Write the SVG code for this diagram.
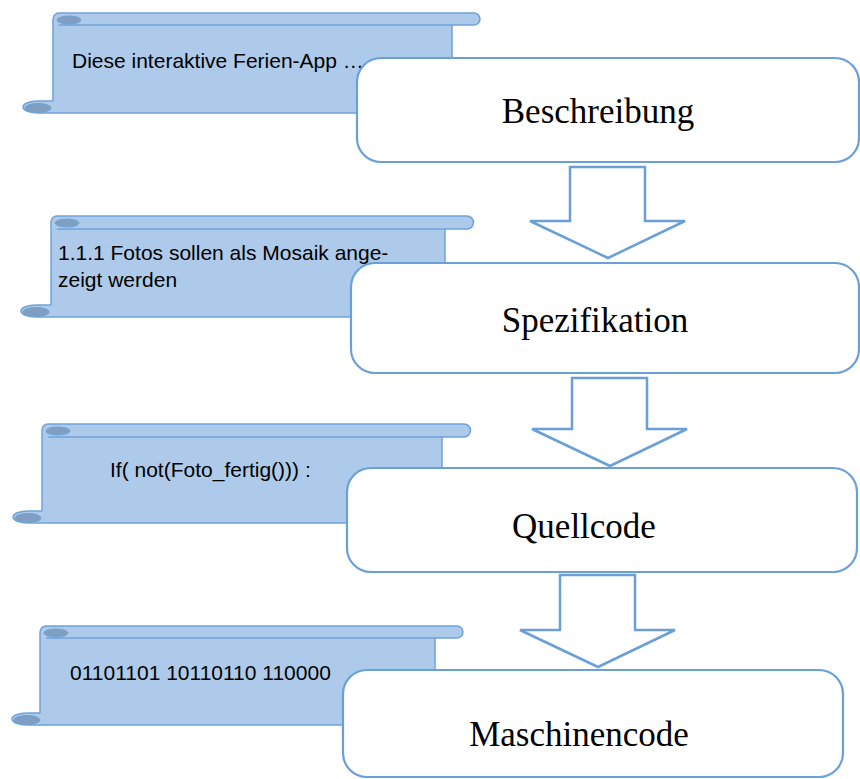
<svg xmlns="http://www.w3.org/2000/svg" width="860" height="779" viewBox="0 0 860 779">
<style>
.scroll{fill:#aecaea;stroke:#6fa2d8;stroke-width:1.5;stroke-linejoin:round}
.bar{fill:none;stroke:#6fa2d8;stroke-width:1.5}
.curl{fill:#7f9ec2;stroke:#6fa2d8;stroke-width:1}
.note{font-family:"Liberation Sans",Arial,sans-serif;font-size:21px;fill:#000}
.box{fill:#fff;stroke:#6a9fd8;stroke-width:2.2}
.label{font-family:"Liberation Serif","Times New Roman",serif;font-size:35px;fill:#000;text-anchor:middle}
.arrow{fill:#fff;stroke:#6a9fd8;stroke-width:2.5;stroke-linejoin:miter}
</style>
<rect width="860" height="779" fill="#fff"/>

<g id="scroll1">
<path class="scroll" d="M53,19 A6,6 0 0 1 59,13 L474,13 A6,6 0 0 1 474,25 L452,25 L452,113 L38,113 A15,6 0 0 1 38,101 L53,101 Z"/>
<line class="bar" x1="59" y1="25" x2="452" y2="25"/>
<ellipse class="curl" cx="69" cy="20" rx="12" ry="4"/>
<ellipse class="curl" cx="38" cy="108" rx="13" ry="4.5"/>
<text class="note" x="72" y="68">Diese interaktive Ferien-App …</text>
</g>

<g id="scroll2">
<path class="scroll" d="M51,222 A6,6 0 0 1 57,216 L467,216 A6.5,6.5 0 0 1 467,229 L445,229 L445,317 L36,317 A15,6 0 0 1 36,305 L51,305 Z"/>
<line class="bar" x1="57" y1="229" x2="445" y2="229"/>
<ellipse class="curl" cx="67" cy="223" rx="12" ry="4"/>
<ellipse class="curl" cx="36" cy="312" rx="13" ry="4.5"/>
<text class="note" x="58" y="260">1.1.1 Fotos sollen als Mosaik ange-</text>
<text class="note" x="58" y="287">zeigt werden</text>
</g>

<g id="scroll3">
<path class="scroll" d="M42,430 A6,6 0 0 1 48,424 L464,424 A6.5,6.5 0 0 1 464,437 L442,437 L442,523 L28,523 A15,6 0 0 1 28,511 L42,511 Z"/>
<line class="bar" x1="48" y1="437" x2="442" y2="437"/>
<ellipse class="curl" cx="58" cy="431" rx="12" ry="4"/>
<ellipse class="curl" cx="28" cy="518" rx="13" ry="4.5"/>
<text class="note" x="110" y="477">If( not(Foto_fertig())) :</text>
</g>

<g id="scroll4">
<path class="scroll" d="M40,632 A6,6 0 0 1 46,626 L457,626 A6,6 0 0 1 457,638 L435,638 L435,725 L27,725 A15,6 0 0 1 27,713 L40,713 Z"/>
<line class="bar" x1="46" y1="638" x2="435" y2="638"/>
<ellipse class="curl" cx="56" cy="633" rx="12" ry="4"/>
<ellipse class="curl" cx="27" cy="720" rx="13" ry="4.5"/>
<text class="note" x="70" y="680">01101101 10110110 110000</text>
</g>

<g id="connectors">
<polygon class="arrow" points="570,167 645,167 645,221 685,221 608,258 530,221 570,221"/>
<polygon class="arrow" points="572,378 647,378 647,429 687,429 610,466 532,429 572,429"/>
<polygon class="arrow" points="560,575 635,575 635,630 675,630 598,667 520,630 560,630"/>
</g>

<g id="beschreibung">
<rect class="box" x="357" y="58" width="502" height="104" rx="24" ry="24"/>
<text class="label" x="598" y="123">Beschreibung</text>
</g>

<g id="spezifikation">
<rect class="box" x="351" y="263" width="508" height="110" rx="24" ry="24"/>
<text class="label" x="595" y="332">Spezifikation</text>
</g>

<g id="quellcode">
<rect class="box" x="347" y="468" width="510" height="104" rx="24" ry="24"/>
<text class="label" x="584" y="538">Quellcode</text>
</g>

<g id="maschinencode">
<rect class="box" x="343" y="670" width="500" height="107" rx="24" ry="24"/>
<text class="label" x="579" y="746">Maschinencode</text>
</g>
</svg>
